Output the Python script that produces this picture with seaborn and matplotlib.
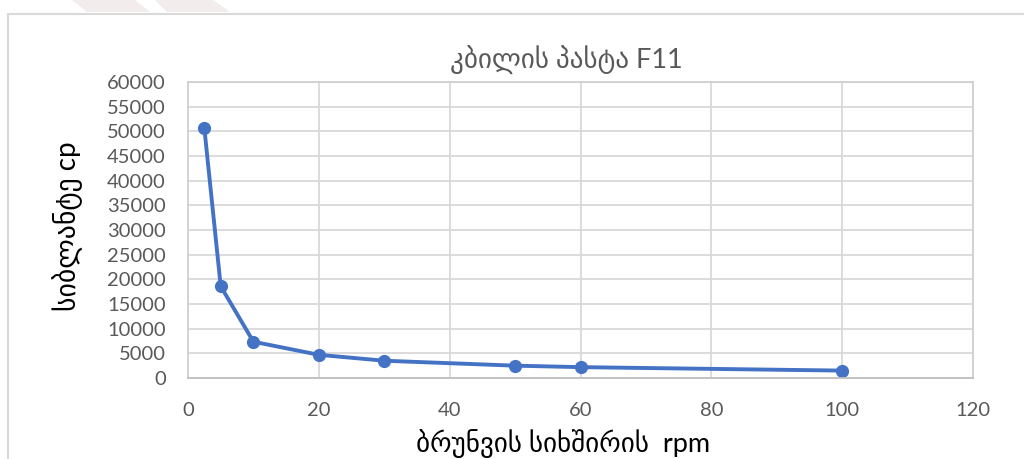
import matplotlib
matplotlib.use("Agg")
import matplotlib.pyplot as plt
from matplotlib.patches import Polygon, Rectangle
import seaborn as sns
import pandas as pd

# Viscosity of toothpaste F11 against spindle speed
speed_rpm = [2.5, 5, 10, 20, 30, 50, 60, 100]
viscosity_cp = [50600, 18600, 7350, 4700, 3500, 2500, 2200, 1500]

title_text = "კბილის პასტა F11"
x_label = "ბრუნვის სიხშირის  rpm"
y_label = "სიბლანტე cp"
x_ticks = [0, 20, 40, 60, 80, 100, 120]
y_ticks = list(range(0, 60001, 5000))

sns.set_theme(style="whitegrid")
plt.rcParams["font.family"] = ["Lato", "DejaVu Sans"]

df = pd.DataFrame({"speed": speed_rpm, "viscosity": viscosity_cp})

fig = plt.figure(figsize=(10.24, 4.59), dpi=100)
W, H = 1024, 459

def fx(px):
    return px / W

def fy(py):
    return 1 - py / H

# Chart frame and decorative stripes across the top edge
fig.patches.append(Rectangle((fx(8), fy(475)), fx(1040) - fx(8), fy(14) - fy(475),
                             transform=fig.transFigure, fill=False,
                             edgecolor="#d9d9d9", linewidth=1.5))
for pts in ([(72, 0), (135, 0), (150, 12), (87, 12)],
            [(155, 0), (213, 0), (230, 12), (167, 12)]):
    fig.patches.append(Polygon([(fx(a), fy(b)) for a, b in pts], closed=True,
                               transform=fig.transFigure, facecolor="#f3ecec",
                               edgecolor="none"))

ax = fig.add_axes([fx(188), fy(378), fx(973) - fx(188), fy(82) - fy(378)])
sns.lineplot(data=df, x="speed", y="viscosity", ax=ax, color="#4472c4",
             linewidth=2.8, marker="o", markersize=9.5, markeredgewidth=0)

ax.set_xlim(0, 120)
ax.set_ylim(0, 60000)
ax.set_xticks(x_ticks)
ax.set_yticks(y_ticks)
ax.set_xticklabels([str(v) for v in x_ticks])
ax.set_yticklabels([str(v) for v in y_ticks])
ax.set_xlabel("")
ax.set_ylabel("")
ax.tick_params(axis="both", labelsize=14.5, colors="#595959", length=0)
ax.tick_params(axis="y", pad=16)
ax.tick_params(axis="x", pad=17)
ax.grid(True, color="#d9d9d9", linewidth=1.3)
for side in ax.spines.values():
    side.set_color("#d0d0d0")
    side.set_linewidth(1.3)
ax.spines["bottom"].set_color("#bfbfbf")
ax.set_facecolor("white")

fig.text(fx(563), fy(444), x_label, fontsize=19.5, color="black",
         ha="center", va="center")
fig.text(fx(68), fy(226), y_label, fontsize=20, color="black",
         ha="center", va="center", rotation=90)
fig.text(fx(566), fy(60), title_text, fontsize=19.5, color="#595959",
         ha="center", va="center")

fig.savefig("out.png", dpi=100)
